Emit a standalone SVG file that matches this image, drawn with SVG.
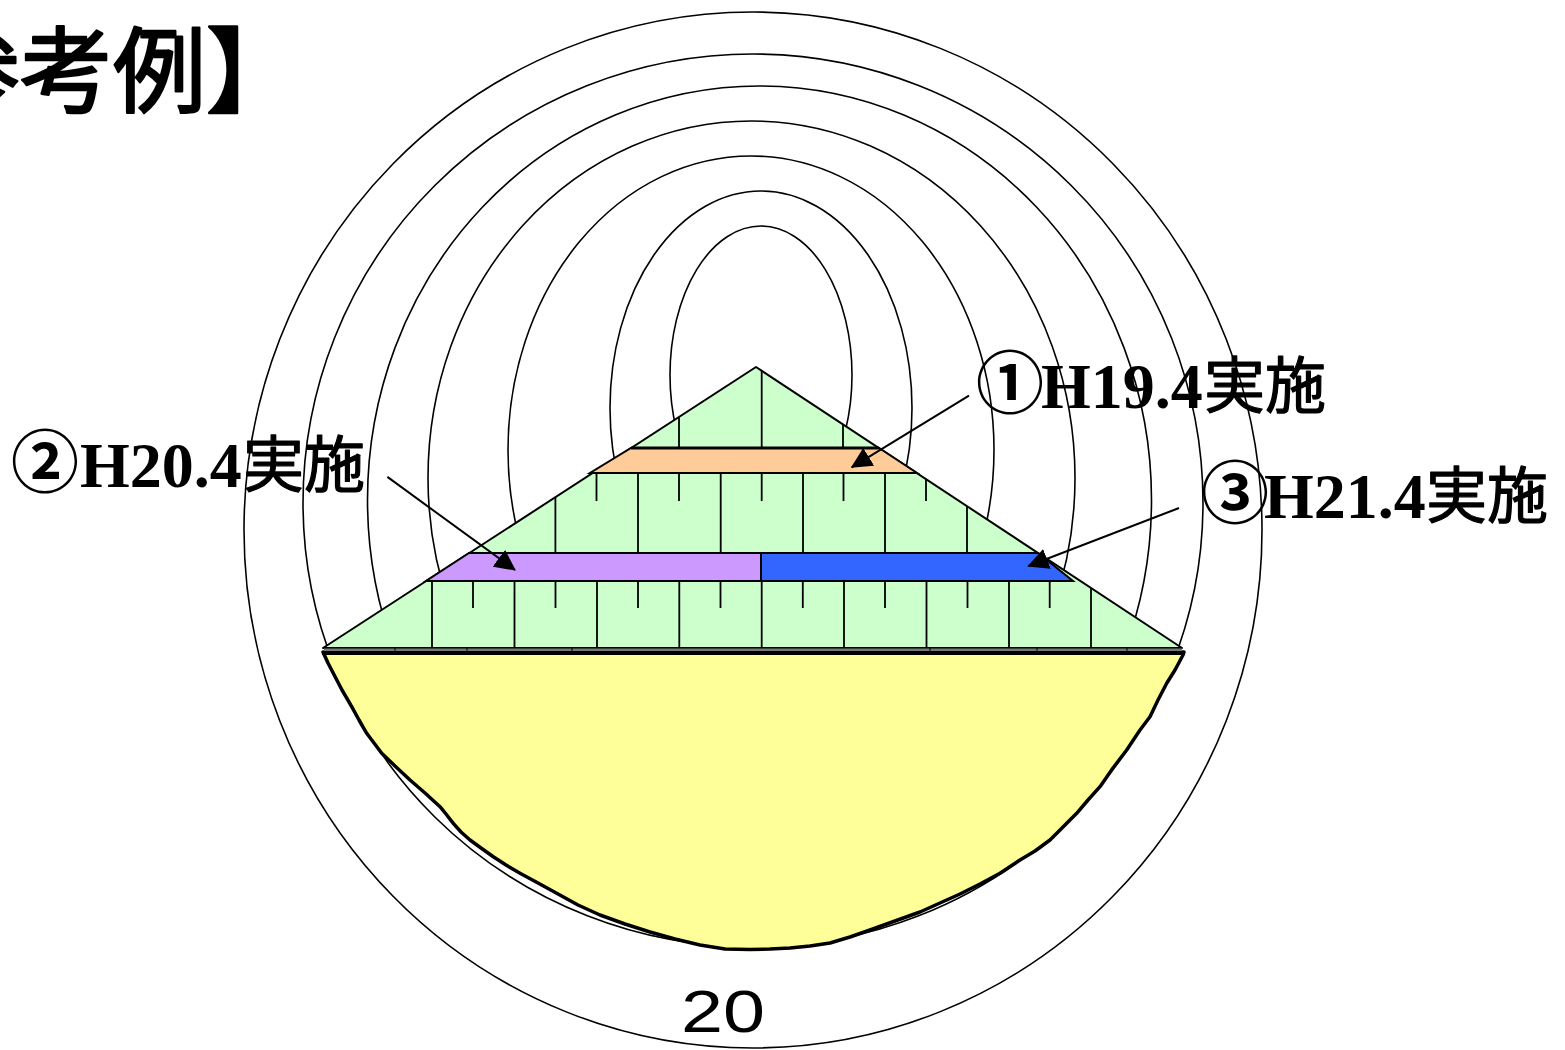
<svg xmlns="http://www.w3.org/2000/svg" width="1565" height="1050" viewBox="0 0 1565 1050">
  <style>
    .contour { fill: none; stroke: #000; stroke-width: 1.6; }
    .grid { stroke: #000; stroke-width: 1.8; fill: none; }
    .band { stroke: #000; stroke-width: 2; stroke-linejoin: miter; }
    .lead { stroke: #000; stroke-width: 2; fill: none; marker-end: url(#arrow); }
    .jp { font-family: "Noto Sans CJK JP", sans-serif; stroke: #000; stroke-width: 1.2; stroke-linejoin: round; }
    .jpb { font-family: "Noto Sans CJK JP", sans-serif; font-weight: bold; }
    .num { font-family: "Liberation Serif", "Times New Roman", serif; font-weight: bold; }
  </style>
  <defs>
    <marker id="arrow" viewBox="0 0 20 20" refX="19" refY="10" markerWidth="21" markerHeight="21" markerUnits="userSpaceOnUse" orient="auto">
      <path d="M0,0 L20,10 L0,20 z" fill="#000"/>
    </marker>
  </defs>

  <rect width="1565" height="1050" fill="#fff"/>

  <!-- heading, partly off the left edge -->
  <text x="-166" y="105" font-family="Noto Sans CJK JP, sans-serif" font-size="93" fill="#000" stroke="#000" stroke-width="2.4" stroke-linejoin="round">【参考例】</text>

  <!-- concentric contour lines around the cut -->
  <g id="contours">
    <ellipse class="contour" cx="753" cy="530" rx="509" ry="518"/>
    <path class="contour" d="M303,503 A450,449 0 0 1 1203,503 A450,444 0 0 1 303,503 Z"/>
    <ellipse class="contour" cx="759.5" cy="500" rx="392" ry="414"/>
    <ellipse class="contour" cx="751.5" cy="478" rx="323.5" ry="357"/>
    <ellipse class="contour" cx="751" cy="450" rx="243" ry="294"/>
    <ellipse class="contour" cx="761" cy="408" rx="151" ry="217"/>
    <ellipse class="contour" cx="761" cy="375" rx="91" ry="149"/>
  </g>

  <!-- stepped embankment -->
  <g id="embankment">
    <polygon points="756,367 1182,648 323,648" fill="#CCFFCC" stroke="#000" stroke-width="2" stroke-linejoin="round"/>
  </g>

  <g id="lift-h19">
    <polygon class="band" points="631,448 879,448 917,473 590,473" fill="#FFCC99"/>
    <line x1="631" y1="448" x2="879" y2="448" stroke="#000" stroke-width="3"/>
  </g>
  <g id="lift-h20">
    <polygon class="band" points="469,553 761,553 761,581 426,581" fill="#CC99FF"/>
  </g>
  <g id="lift-h21">
    <polygon class="band" points="761,553 1038,553 1073,581 761,581" fill="#3366FF"/>
  </g>

  <!-- block joints inside the embankment -->
  <g id="joints" class="grid">
    <path d="M679,417.4 V448 M761.7,370.8 V448 M843,424.4 V448"/>
    <path d="M555.4,497.2 V553 M638,473 V553 M720.7,473 V553 M803,473 V553 M885,473 V553 M967,506.2 V553"/>
    <path d="M596.5,473 V501 M679,473 V501 M761.7,473 V501 M843.5,473 V501 M926,479.1 V501"/>
    <path d="M432,581 V648 M514.5,581 V648 M597,581 V648 M679.3,581 V648 M761.7,581 V648 M844,581 V648 M926.5,581 V648 M1009,581 V648 M1091,588 V648"/>
    <path d="M473,581 V608 M555.5,581 V608 M638,581 V608 M720.5,581 V608 M802.8,581 V608 M885,581 V608 M967.5,581 V608 M1049.7,581 V608"/>
  </g>

  <!-- foundation -->
  <g id="foundation">
    <path d="M323,652 L1184,652 L1183,655 1175,670 1166.7,683.3 1158,700 1150,716.7 1140,730 1126.7,750 1113,768 1100,786.7 1088,800 1076.7,813.3 1063,827 1050,840 1035,851 1020,860 1000,873.3 980,884 960,894 940,903 920,912 895,921 870,930 850,937 830,943 810,946 790,948 770,949 750,949.5 725,949 700,945 675,939 650,932 625,924 600,915 578,905 556.7,893.3 538,883 520,873.3 506,865 493.3,856.7 481,848 470,840 461,832 453.3,823.3 446,814 440,806.7 425,793 410,780 395,766 381.7,753.3 374,743 366.7,733.3 359,720 351.7,706.7 342,690 333.3,673.3 328,663 Z" fill="#FFFF99" stroke="#000" stroke-width="3.5" stroke-linejoin="round"/>
    <rect x="324" y="648.5" width="858" height="3" fill="#777"/>
    <line x1="322" y1="653" x2="1185" y2="653" stroke="#000" stroke-width="4"/>
    <path d="M395,648 V651.5 M467,648 V651.5 M572,648 V651.5 M930,648 V651.5 M1037,648 V651.5 M1127,648 V651.5" stroke="#000" stroke-width="1"/>
  </g>

  <!-- leader arrows -->
  <g id="connectors">
    <line class="lead" x1="969" y1="395.6" x2="851.7" y2="467.3"/>
    <line class="lead" x1="387.4" y1="476.9" x2="515" y2="570"/>
    <line class="lead" x1="1179" y1="508" x2="1028.3" y2="566"/>
  </g>

  <!-- labels -->
  <g id="label-h19">
    <text y="408" fill="#000"><tspan class="jpb" x="976" font-size="68">①</tspan><tspan class="num" x="1041" font-size="64">H19.4</tspan><tspan class="jp" x="1204" font-size="61">実施</tspan></text>
  </g>
  <g id="label-h20">
    <text y="487" fill="#000"><tspan class="jpb" x="11" font-size="68">②</tspan><tspan class="num" x="80" font-size="64">H20.4</tspan><tspan class="jp" x="243" font-size="61">実施</tspan></text>
  </g>
  <g id="label-h21">
    <text y="518" fill="#000"><tspan class="jpb" x="1201" font-size="68">③</tspan><tspan class="num" x="1264" font-size="64">H21.4</tspan><tspan class="jp" x="1426" font-size="61">実施</tspan></text>
  </g>

  <text x="681" y="1032" font-family="Liberation Sans, Arial, sans-serif" font-size="60" textLength="84" lengthAdjust="spacingAndGlyphs" fill="#000">20</text>
</svg>
